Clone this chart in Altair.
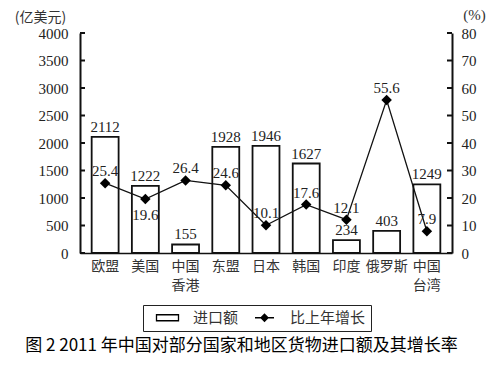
import altair as alt
import pandas as pd

categories = ["欧盟", "美国", "中国香港", "东盟", "日本", "韩国", "印度", "俄罗斯", "中国台湾"]
imports = [2112, 1222, 155, 1928, 1946, 1627, 234, 403, 1249]
growth = [25.4, 19.6, 26.4, 24.6, 10.1, 17.6, 12.1, 55.6, 7.9]
left_ticks = [0, 500, 1000, 1500, 2000, 2500, 3000, 3500, 4000]
right_ticks = [0, 10, 20, 30, 40, 50, 60, 70, 80]
legend_items = ["进口额", "比上年增长"]
left_title = "(亿美元)"
right_title = "(%)"
caption = "图 2 2011 年中国对部分国家和地区货物进口额及其增长率"

df = pd.DataFrame({"cat": categories, "imp": imports, "gr": growth})
lt_df = pd.DataFrame({"imp": left_ticks})
rt_df = pd.DataFrame({"gr": right_ticks})
leg_df = pd.DataFrame({"s": legend_items})

W, H = 372, 220
SERIF = "Liberation Serif, Times New Roman, Noto Sans CJK SC"
CJK = "Noto Sans CJK SC"
INK = "#111"

x_enc = alt.X(
    "cat:N", sort=categories,
    scale=alt.Scale(paddingInner=0.33, paddingOuter=0.29),
    axis=alt.Axis(
        title=caption, titleFont=CJK, titleFontSize=17, titleFontWeight="normal",
        titleColor="#000", titleX=161, titleY=84, titleAlign="center", titleBaseline="top",
        labelAngle=0, labelFont=CJK, labelFontSize=14, labelColor="#333",
        labelPadding=6, labelLineHeight=19,
        labelExpr="length(datum.value) == 4 ? [substring(datum.value, 0, 2), substring(datum.value, 2)] : datum.value",
        ticks=False, domainColor=INK, domainWidth=1.5, grid=False,
    ),
)

y_left = alt.Y(
    "imp:Q", scale=alt.Scale(domain=[0, 4000], nice=False),
    axis=alt.Axis(
        orient="left", values=left_ticks, format="d", title=left_title, titleAngle=0,
        titleX=-40, titleY=-15.5, titleAlign="center", titleBaseline="middle",
        titleFont=CJK, titleFontSize=14, titleFontWeight="normal", titleColor="#333",
        labelFont=SERIF, labelFontSize=15, labelColor="#222", labelPadding=12,
        ticks=False, domainColor=INK, domainWidth=2, grid=False,
    ),
)

y_right = alt.Y(
    "gr:Q", scale=alt.Scale(domain=[0, 80], nice=False),
    axis=alt.Axis(
        orient="right", values=right_ticks, format="d", title=right_title, titleAngle=0,
        titleX=22, titleY=-19, titleAlign="center", titleBaseline="middle",
        titleFont=SERIF, titleFontSize=15, titleFontWeight="normal", titleColor="#333",
        labelFont=SERIF, labelFontSize=15, labelColor="#222", labelPadding=9,
        ticks=False, domainColor=INK, domainWidth=2, grid=False,
    ),
)

base = alt.Chart(df)

bars = base.mark_bar(fill="white", stroke=INK, strokeWidth=1.8).encode(x=x_enc, y=y_left)
bar_text = base.mark_text(dy=-5, baseline="alphabetic", font=SERIF, fontSize=15, color="#222").encode(
    x=x_enc, y=y_left, text=alt.Text("imp:Q", format="d"))
lticks = alt.Chart(lt_df).mark_rule(color=INK, strokeWidth=2).encode(
    y=y_left, x=alt.value(0), x2=alt.value(5))

line = base.mark_line(color=INK, strokeWidth=1.3).encode(x=x_enc, y=y_right)
pts = base.mark_point(shape="diamond", filled=True, size=110, color="#000", opacity=1).encode(x=x_enc, y=y_right)
g_above = base.transform_filter("datum.cat != '美国'").mark_text(
    dy=-7, baseline="alphabetic", font=SERIF, fontSize=15, color="#222").encode(
    x=x_enc, y=y_right, text=alt.Text("gr:Q", format=".1f"))
g_below = base.transform_filter("datum.cat == '美国'").mark_text(
    dy=21, baseline="alphabetic", font=SERIF, fontSize=15, color="#222").encode(
    x=x_enc, y=y_right, text=alt.Text("gr:Q", format=".1f"))
rticks = alt.Chart(rt_df).mark_rule(color=INK, strokeWidth=2).encode(
    y=y_right, x=alt.value(W), x2=alt.value(W - 5))

rect_path = "M-2.2,-0.6H2.2V0.6H-2.2Z"
line_path = "M-1.9,0H1.9M0,-0.7L0.7,0L0,0.7L-0.7,0Z"
leg = alt.Legend(
    title=None, orient="none", legendX=63, legendY=272, direction="horizontal",
    strokeColor="#222", padding=5, symbolSize=100, symbolOffset=12,
    symbolStrokeColor="#000", symbolStrokeWidth=1.3,
    labelOffset=18, columnPadding=6, labelFont=CJK, labelFontSize=15, labelColor="#333",
    labelExpr="datum.label == '比上年增长' ? datum.label + '\u2002' : datum.label",
)
legend_layer = alt.Chart(leg_df).transform_filter("false").mark_point(
    filled=False, opacity=1, strokeWidth=1.3).encode(
    shape=alt.Shape("s:N", scale=alt.Scale(domain=legend_items, range=[rect_path, line_path]), legend=leg),
    fill=alt.Fill("s:N", scale=alt.Scale(domain=legend_items, range=["white", "black"]), legend=leg),
    stroke=alt.Stroke("s:N", scale=alt.Scale(domain=legend_items, range=["black", "black"]), legend=leg),
)

left = alt.layer(bars, bar_text, lticks)
right = alt.layer(line, pts, g_above, g_below, rticks, legend_layer)

chart = alt.layer(left, right).resolve_scale(y="independent").properties(
    width=W, height=H,
    padding={"left": 72, "top": 25, "right": 38, "bottom": 110},
    autosize=alt.AutoSizeParams(type="none"),
    background="white",
).configure_view(stroke=None)

chart.save("out.html", embed_options={"renderer": "svg", "actions": False})
